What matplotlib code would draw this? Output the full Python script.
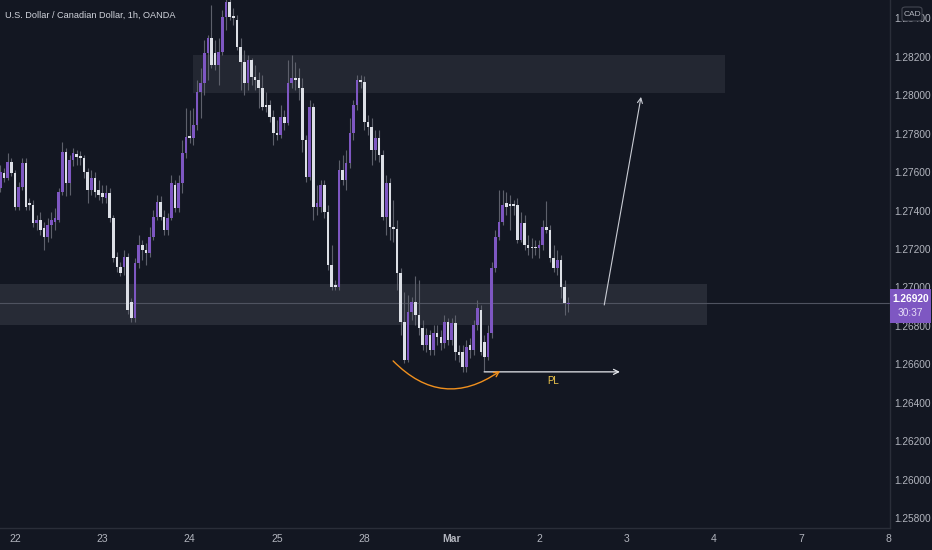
import matplotlib
matplotlib.use('Agg')
import matplotlib.pyplot as plt
from matplotlib.patches import Rectangle, FancyBboxPatch
import numpy as np

plt.rcParams['font.family'] = ['Liberation Sans', 'DejaVu Sans']

# ---------------- data (USD/CAD, 1h, OANDA) ----------------
title = 'U.S. Dollar / Canadian Dollar, 1h, OANDA'

opens = [
    1.27517, 1.27595, 1.27569, 1.27653, 1.27595, 1.27419, 1.27523, 1.27647, 1.27439, 1.27429,
    1.27335, 1.27351, 1.27309, 1.27263, 1.27325, 1.27341, 1.27351, 1.27497, 1.27705, 1.27543,
    1.27663, 1.27694, 1.27684, 1.27673, 1.27601, 1.27507, 1.27569, 1.27507, 1.27491, 1.27465,
    1.27491, 1.27361, 1.27159, 1.27107, 1.27107, 1.27159, 1.26925, 1.26841, 1.27127, 1.27221,
    1.27195, 1.27179, 1.27263, 1.27367, 1.27445, 1.27367, 1.27299, 1.27361, 1.27533, 1.27413,
    1.27543, 1.27699, 1.27788, 1.27777, 1.27845, 1.28017, 1.28063, 1.28219, 1.28297, 1.28219,
    1.28157, 1.28225, 1.28407, 1.28485, 1.28412, 1.28391, 1.28251, 1.28173, 1.28063, 1.28183,
    1.28095, 1.28079, 1.28037, 1.27949, 1.27949, 1.27887, 1.27803, 1.27793, 1.27887, 1.27855,
    1.28063, 1.28089, 1.28089, 1.28037, 1.27767, 1.27575, 1.27939, 1.27419, 1.27419, 1.27533,
    1.27393, 1.27117, 1.27013, 1.27003, 1.27611, 1.27559, 1.27647, 1.27803, 1.27949, 1.28079,
    1.28069, 1.27861, 1.27835, 1.27715, 1.27777, 1.27689, 1.27367, 1.27543, 1.27315, 1.27304,
    1.27075, 1.26821, 1.26623, 1.26873, 1.26925, 1.26857, 1.26789, 1.26701, 1.26753, 1.26675,
    1.26763, 1.26743, 1.26711, 1.26821, 1.26727, 1.26815, 1.26665, 1.26665, 1.26587, 1.26701,
    1.26675, 1.26805, 1.26883, 1.26717, 1.26639, 1.26763, 1.27101, 1.27263, 1.27341, 1.27439,
    1.27434, 1.27434, 1.27429, 1.27247, 1.27335, 1.27221, 1.27211, 1.27211, 1.27205, 1.27221,
    1.27315, 1.27299, 1.27153, 1.27101, 1.27143, 1.27003, 1.26915,
]
highs = [
    1.27637, 1.27621, 1.27699, 1.27673, 1.27611, 1.27549, 1.27673, 1.27673, 1.27465, 1.27455,
    1.27377, 1.27393, 1.27341, 1.27361, 1.27393, 1.27413, 1.27517, 1.27757, 1.27725, 1.27689,
    1.27725, 1.27715, 1.27710, 1.27689, 1.27621, 1.27611, 1.27601, 1.27559, 1.27533, 1.27533,
    1.27517, 1.27377, 1.27185, 1.27133, 1.27195, 1.27179, 1.26945, 1.27153, 1.27273, 1.27247,
    1.27231, 1.27315, 1.27403, 1.27481, 1.27476, 1.27403, 1.27387, 1.27585, 1.27559, 1.27585,
    1.27767, 1.27933, 1.27923, 1.27933, 1.28079, 1.28141, 1.28287, 1.28313, 1.28469, 1.28287,
    1.28297, 1.28443, 1.28547, 1.28547, 1.28453, 1.28417, 1.28297, 1.28235, 1.28209, 1.28193,
    1.28157, 1.28121, 1.28105, 1.28017, 1.27975, 1.27923, 1.27871, 1.27949, 1.27923, 1.28183,
    1.28209, 1.28173, 1.28141, 1.28089, 1.27793, 1.27975, 1.27959, 1.27533, 1.27559, 1.27559,
    1.27429, 1.27221, 1.27039, 1.27663, 1.27689, 1.27715, 1.27881, 1.27975, 1.28105, 1.28105,
    1.28100, 1.27897, 1.27881, 1.27819, 1.27819, 1.27715, 1.27585, 1.27569, 1.27455, 1.27351,
    1.27101, 1.26977, 1.26961, 1.26951, 1.27060, 1.27039, 1.26831, 1.26789, 1.26779, 1.26805,
    1.26805, 1.26779, 1.26857, 1.26841, 1.26841, 1.26857, 1.26701, 1.26701, 1.26727, 1.26737,
    1.26831, 1.26935, 1.26909, 1.26753, 1.26805, 1.27133, 1.27299, 1.27507, 1.27507, 1.27497,
    1.27481, 1.27455, 1.27465, 1.27393, 1.27377, 1.27273, 1.27257, 1.27247, 1.27247, 1.27351,
    1.27450, 1.27325, 1.27221, 1.27195, 1.27169, 1.27039, 1.26951,
]
lows = [
    1.27497, 1.27549, 1.27559, 1.27580, 1.27403, 1.27403, 1.27507, 1.27403, 1.27403, 1.27315,
    1.27299, 1.27273, 1.27195, 1.27237, 1.27257, 1.27299, 1.27341, 1.27481, 1.27476, 1.27481,
    1.27632, 1.27637, 1.27637, 1.27569, 1.27439, 1.27481, 1.27471, 1.27455, 1.27439, 1.27439,
    1.27341, 1.27133, 1.27081, 1.27060, 1.27065, 1.26862, 1.26821, 1.26821, 1.27101, 1.27143,
    1.27117, 1.27159, 1.27247, 1.27351, 1.27351, 1.27273, 1.27273, 1.27351, 1.27393, 1.27393,
    1.27491, 1.27673, 1.27751, 1.27741, 1.27819, 1.27881, 1.28001, 1.28079, 1.28141, 1.28131,
    1.28053, 1.28209, 1.28339, 1.28391, 1.28365, 1.28235, 1.28027, 1.28001, 1.28027, 1.28053,
    1.28027, 1.27933, 1.27923, 1.27913, 1.27861, 1.27741, 1.27767, 1.27777, 1.27819, 1.27845,
    1.28037, 1.28027, 1.27975, 1.27705, 1.27549, 1.27559, 1.27351, 1.27377, 1.27393, 1.27361,
    1.27091, 1.26987, 1.26987, 1.26987, 1.27533, 1.27507, 1.27621, 1.27767, 1.27923, 1.28037,
    1.27819, 1.27793, 1.27637, 1.27663, 1.27653, 1.27351, 1.27273, 1.27247, 1.27237, 1.26987,
    1.26753, 1.26607, 1.26613, 1.26831, 1.26805, 1.26753, 1.26675, 1.26665, 1.26649, 1.26649,
    1.26701, 1.26675, 1.26685, 1.26701, 1.26701, 1.26623, 1.26613, 1.26561, 1.26561, 1.26633,
    1.26649, 1.26779, 1.26649, 1.26566, 1.26623, 1.26737, 1.27081, 1.27247, 1.27325, 1.27377,
    1.27299, 1.27377, 1.27231, 1.27237, 1.27195, 1.27169, 1.27153, 1.27169, 1.27153, 1.27195,
    1.27283, 1.27133, 1.27081, 1.27065, 1.26945, 1.26857, 1.26873,
]
closes = [
    1.27601, 1.27569, 1.27653, 1.27595, 1.27419, 1.27523, 1.27647, 1.27419, 1.27429, 1.27335,
    1.27351, 1.27299, 1.27263, 1.27325, 1.27351, 1.27361, 1.27497, 1.27705, 1.27543, 1.27663,
    1.27699, 1.27679, 1.27673, 1.27601, 1.27507, 1.27569, 1.27497, 1.27481, 1.27471, 1.27491,
    1.27361, 1.27153, 1.27107, 1.27075, 1.27159, 1.26883, 1.26841, 1.27127, 1.27221, 1.27195,
    1.27179, 1.27263, 1.27367, 1.27445, 1.27367, 1.27299, 1.27361, 1.27543, 1.27413, 1.27543,
    1.27699, 1.27783, 1.27777, 1.27845, 1.28017, 1.28063, 1.28219, 1.28297, 1.28157, 1.28157,
    1.28225, 1.28407, 1.28485, 1.28407, 1.28401, 1.28251, 1.28173, 1.28063, 1.28183, 1.28095,
    1.28079, 1.28037, 1.27939, 1.27939, 1.27887, 1.27803, 1.27793, 1.27887, 1.27855, 1.28063,
    1.28089, 1.28079, 1.28037, 1.27767, 1.27575, 1.27939, 1.27419, 1.27439, 1.27533, 1.27393,
    1.27117, 1.27003, 1.27003, 1.27611, 1.27559, 1.27647, 1.27803, 1.27949, 1.28079, 1.28069,
    1.27861, 1.27835, 1.27715, 1.27777, 1.27689, 1.27367, 1.27543, 1.27315, 1.27304, 1.27075,
    1.26821, 1.26623, 1.26873, 1.26925, 1.26857, 1.26789, 1.26701, 1.26753, 1.26675, 1.26763,
    1.26743, 1.26711, 1.26821, 1.26727, 1.26815, 1.26665, 1.26649, 1.26587, 1.26691, 1.26675,
    1.26805, 1.26893, 1.26665, 1.26639, 1.26763, 1.27101, 1.27263, 1.27341, 1.27429, 1.27419,
    1.27423, 1.27423, 1.27247, 1.27335, 1.27221, 1.27205, 1.27205, 1.27205, 1.27221, 1.27315,
    1.27299, 1.27153, 1.27101, 1.27143, 1.27003, 1.26919, 1.26920,
]

day_labels = ['22', '23', '24', '25', '28', 'Mar', '2', '3', '4', '7', '8']
first_bar_hour = 20          # first bar: Feb 21, 20:00
bars_per_day = 24
price_ticks = [1.258, 1.260, 1.262, 1.264, 1.266, 1.268, 1.270, 1.272,
               1.274, 1.276, 1.278, 1.280, 1.282, 1.284]
last_price = 1.26920
countdown = '30:37'
currency = 'CAD'

supply_zone = (1.28011, 1.28209)     # price range of upper rectangle
supply_bars = (52.9, 199.1)
demand_zone = (1.26805, 1.27017)     # price range of lower rectangle
demand_bars = (-0.1, 194.2)
target_arrow = ((165.9, 1.26909), (176.0, 1.27991))
pl_arrow = ((132.9, 1.26561), (170.2, 1.26561))
pl_label = (151.8, 1.26514)
curve_arrow = ((107.9, 1.26618), (137.3, 1.26566))

# ---------------- style ----------------
BG = '#131722'
PURPLE = '#7e57c2'
WHITE = '#dcdfe6'
WICK = '#5d606b'
TXT = '#b2b5be'
SEP = '#2a2e39'

W, H = 932, 550
fig = plt.figure(figsize=(W / 100, H / 100), dpi=100, facecolor=BG)
ax = fig.add_axes([0, 22 / H, 890 / W, 528 / H])
ax.set_facecolor(BG)

o, h, l, c = map(np.array, (opens, highs, lows, closes))
x = np.arange(len(c))
up = c >= o
body_lo = np.minimum(o, c)
body_h = np.maximum(np.abs(c - o), 0.00004)
ax.vlines(x, np.minimum(l, body_lo), np.maximum(h, np.maximum(o, c)),
          color=WICK, lw=0.8, zorder=2)
ax.bar(x, body_h, bottom=body_lo, width=0.72,
       color=np.where(up, PURPLE, WHITE), linewidth=0, zorder=3)

# zones
ax.add_patch(Rectangle((supply_bars[0], supply_zone[0]), supply_bars[1] - supply_bars[0],
                       supply_zone[1] - supply_zone[0], facecolor='#9598a1', alpha=0.13,
                       linewidth=0, zorder=1))
ax.add_patch(Rectangle((demand_bars[0], demand_zone[0]), demand_bars[1] - demand_bars[0],
                       demand_zone[1] - demand_zone[0], facecolor='#9598a1', alpha=0.16,
                       linewidth=0, zorder=1))

# last price line
ax.axhline(last_price, color='#4f5360', lw=0.8, zorder=1.5)

# drawings
ax.annotate('', xy=target_arrow[1], xytext=target_arrow[0],
            arrowprops=dict(arrowstyle='->', color='#c9ccd4', lw=0.8,
                            shrinkA=0, shrinkB=0, mutation_scale=9), zorder=5)
ax.annotate('', xy=pl_arrow[1], xytext=pl_arrow[0],
            arrowprops=dict(arrowstyle='->', color='#e6e8ee', lw=0.9,
                            shrinkA=0, shrinkB=0, mutation_scale=9), zorder=5)
ax.text(pl_label[0], pl_label[1], 'PL', color='#f2c94c', fontsize=7,
        ha='center', va='center', zorder=5)
ax.annotate('', xy=curve_arrow[1], xytext=curve_arrow[0],
            arrowprops=dict(arrowstyle='->', color='#f0901e', lw=1.0,
                            connectionstyle='arc3,rad=0.42',
                            shrinkA=0, shrinkB=0, mutation_scale=9), zorder=5)

# axes
ax.set_xlim(-0.1, 244.4)
ax.set_ylim(1.25749, 1.28495)
ticks = [(bars_per_day - first_bar_hour) + bars_per_day * k for k in range(len(day_labels))]
ax.set_xticks(ticks)
ax.set_xticklabels(day_labels)
for lab in ax.get_xticklabels():
    if lab.get_text() == 'Mar':
        lab.set_fontweight('bold')
        lab.set_color('#e0e3eb')
ax.yaxis.tick_right()
ax.set_yticks(price_ticks)
ax.set_yticklabels([f'{p:.5f}' for p in price_ticks])
ax.tick_params(axis='x', length=0, pad=4, labelsize=7.5, colors=TXT)
ax.tick_params(axis='y', length=0, pad=3, labelsize=7.3, colors=TXT)
for s in ('top', 'left'):
    ax.spines[s].set_visible(False)
for s in ('right', 'bottom'):
    ax.spines[s].set_color(SEP)
    ax.spines[s].set_linewidth(1)

# title
fig.text(5 / W, 1 - 15 / H, title, color='#d1d4dc', fontsize=6.6, va='center', ha='left')

# last price label box
fig.add_artist(Rectangle((890 / W, 1 - 323 / H), 41 / W, 34 / H, transform=fig.transFigure,
                         facecolor=PURPLE, edgecolor='none', zorder=10))
fig.text(910.5 / W, 1 - 299 / H, f'{last_price:.5f}', color='white', fontsize=7.3,
         fontweight='bold', ha='center', va='center', zorder=11)
fig.text(910.5 / W, 1 - 313 / H, countdown, color='#e6ddf7', fontsize=7.3,
         ha='center', va='center', zorder=11)

# currency badge
fig.add_artist(FancyBboxPatch((902 / W, 1 - 21 / H), 20 / W, 14 / H,
                              boxstyle='round,pad=0,rounding_size=0.004',
                              transform=fig.transFigure, facecolor=BG,
                              edgecolor='#434651', lw=0.8, zorder=10))
fig.text(912 / W, 1 - 14 / H, currency, color=TXT, fontsize=6,
         ha='center', va='center', zorder=11)

fig.savefig('out.png', dpi=100, facecolor=BG)
